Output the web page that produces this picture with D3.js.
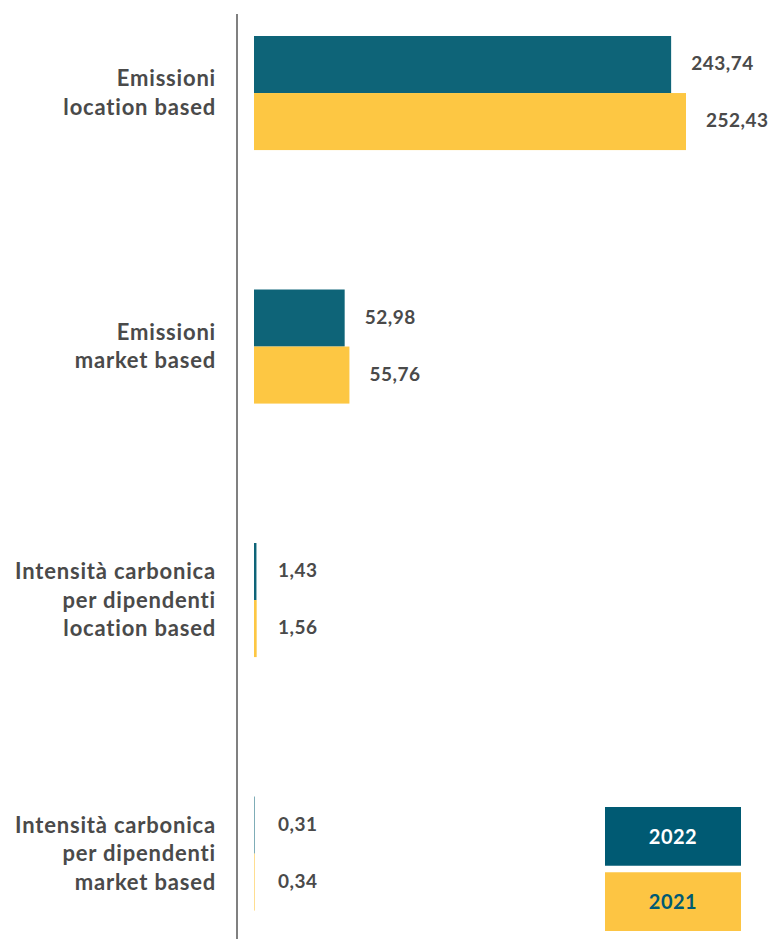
<!DOCTYPE html>
<html><head><meta charset="utf-8">
<script src="https://cdn.jsdelivr.net/npm/d3@7"></script>
<style>body{margin:0;background:#fff}svg{display:block}</style>
</head><body>
<script>
const categories = [
  ["Emissioni", "location based"],
  ["Emissioni", "market based"],
  ["Intensità carbonica", "per dipendenti", "location based"],
  ["Intensità carbonica", "per dipendenti", "market based"]
];
const years = ["2022", "2021"];
const values2022 = [243.74, 52.98, 1.43, 0.31];
const values2021 = [252.43, 55.76, 1.56, 0.34];
const labels2022 = ["243,74", "52,98", "1,43", "0,31"];
const labels2021 = ["252,43", "55,76", "1,56", "0,34"];

const W = 774, H = 939;
const barColors = {"2022": "#0e6478", "2021": "#fdc743"};
const legendColors = {"2022": "#005a73", "2021": "#fdc543"};
const legendText = {"2022": "#ffffff", "2021": "#005a73"};
const textColor = "#4a4a4a";
const font = "Lato, 'Open Sans', sans-serif";

const svg = d3.select("body").append("svg").attr("width", W).attr("height", H);

const catIdx = d3.range(categories.length);
const y = d3.scaleBand().domain(catIdx).range([0, 946.6]).paddingInner(0.55).paddingOuter(0.142);
const ySub = d3.scaleBand().domain(years).range([0, y.bandwidth()]).padding(0);
const x = d3.scaleLinear().domain([0, d3.max(values2021.concat(values2022))]).range([254, 686]);

const data = catIdx.map(i => ({i, cat: categories[i],
  bars: [{year: "2022", v: values2022[i], l: labels2022[i]}, {year: "2021", v: values2021[i], l: labels2021[i]}]}));

// axis line
svg.append("line").attr("x1", 237).attr("x2", 237).attr("y1", 14).attr("y2", H)
  .attr("stroke", "#808080").attr("stroke-width", 2);

const g = svg.selectAll("g.cat").data(data).join("g").attr("class", "cat")
  .attr("transform", d => `translate(0,${y(d.i)})`);

g.selectAll("rect").data(d => d.bars).join("rect")
  .attr("x", x(0)).attr("y", b => ySub(b.year))
  .attr("width", b => x(b.v) - x(0)).attr("height", ySub.bandwidth())
  .attr("fill", b => barColors[b.year]);

g.selectAll("text.val").data(d => d.bars).join("text").attr("class", "val")
  .attr("x", b => Math.max(x(b.v), x(0) + 4) + 20)
  .attr("y", b => ySub(b.year) + ySub.bandwidth() / 2 - 1)
  .attr("dy", "0.35em")
  .attr("font-family", font).attr("font-weight", 700).attr("font-size", 19)
  .attr("letter-spacing", 0.5)
  .attr("fill", textColor).text(b => b.l);

// category labels
g.each(function(d) {
  const n = d.cat.length, lh = 28.5;
  const t = d3.select(this).append("text")
    .attr("text-anchor", "end")
    .attr("font-family", font).attr("font-weight", 700).attr("font-size", 22)
    .attr("letter-spacing", 0.8)
    .attr("fill", textColor);
  d.cat.forEach((line, k) => {
    t.append("tspan").attr("x", 216)
      .attr("y", y.bandwidth() / 2 + (k - (n - 1) / 2) * lh)
      .attr("dy", "0.35em").text(line);
  });
});

// legend
const lg = svg.append("g").attr("transform", "translate(605,807)");
const ly = d3.scaleBand().domain(years).range([0, 124]).paddingInner(0.1);
const li = lg.selectAll("g").data(years).join("g").attr("transform", d => `translate(0,${ly(d)})`);
li.append("rect").attr("width", 136).attr("height", ly.bandwidth()).attr("fill", d => legendColors[d]);
li.append("text").attr("x", 68).attr("y", ly.bandwidth() / 2).attr("dy", "0.36em")
  .attr("text-anchor", "middle").attr("font-family", font).attr("font-weight", 700)
  .attr("font-size", 20).attr("letter-spacing", 0.5).attr("fill", d => legendText[d]).text(d => d);
</script>
</body></html>
